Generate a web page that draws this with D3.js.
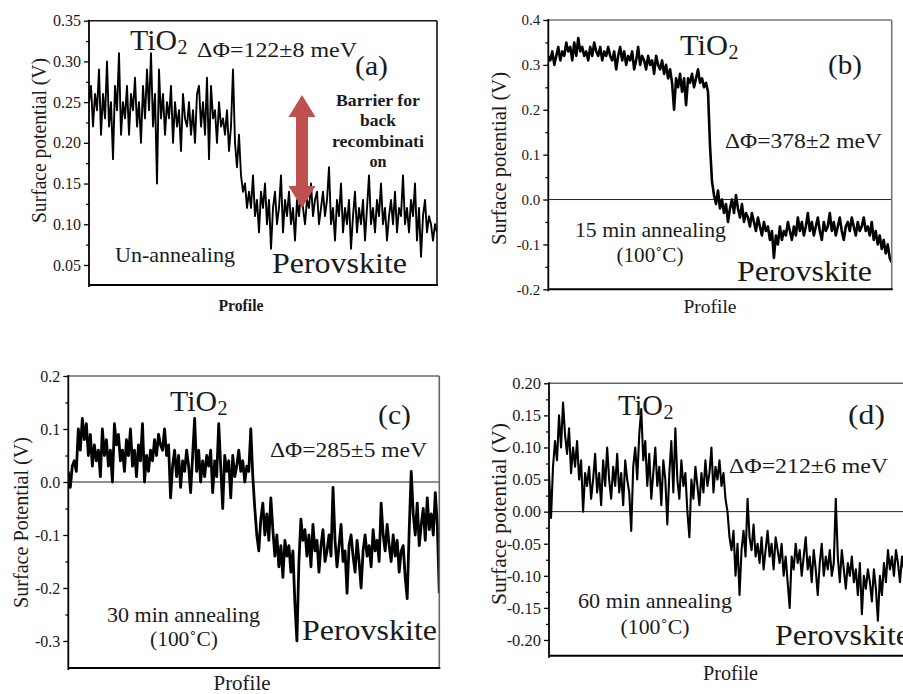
<!DOCTYPE html>
<html>
<head>
<meta charset="utf-8">
<script src="https://cdn.jsdelivr.net/npm/d3@7"></script>
<style>
body { margin: 0; background: #fff; }
svg { display: block; }
text { font-family: "Liberation Serif", "Times New Roman", serif; fill: #1a1a1a; }
</style>
</head>
<body>
<script>
"use strict";

// surface potential profiles (V)
var profileA = [
  0.25,0.27,0.22,0.26,0.24,0.29,0.21,0.26,0.23,0.30,
  0.22,0.25,0.18,0.27,0.24,0.31,0.21,0.25,0.23,0.27,
  0.21,0.26,0.24,0.28,0.22,0.25,0.20,0.27,0.23,0.29,
  0.24,0.31,0.22,0.26,0.15,0.29,0.23,0.26,0.21,0.25,
  0.23,0.27,0.20,0.25,0.22,0.24,0.19,0.26,0.23,0.22,
  0.25,0.21,0.24,0.20,0.26,0.27,0.22,0.25,0.21,0.28,
  0.18,0.27,0.23,0.24,0.20,0.25,0.22,0.23,0.21,0.24,
  0.19,0.22,0.29,0.20,0.17,0.21,0.16,0.14,0.15,0.12,
  0.14,0.12,0.16,0.11,0.13,0.09,0.14,0.12,0.15,0.10,
  0.13,0.07,0.12,0.14,0.10,0.12,0.16,0.09,0.13,0.11,
  0.14,0.10,0.12,0.08,0.13,0.11,0.14,0.12,0.10,0.13,
  0.12,0.15,0.11,0.13,0.14,0.10,0.12,0.14,0.11,0.13,
  0.17,0.10,0.12,0.08,0.13,0.11,0.15,0.09,0.12,0.10,
  0.13,0.07,0.11,0.14,0.09,0.12,0.10,0.13,0.08,0.12,
  0.16,0.10,0.12,0.09,0.13,0.11,0.15,0.10,0.12,0.08,
  0.11,0.13,0.10,0.14,0.09,0.12,0.11,0.16,0.10,0.12,
  0.09,0.13,0.11,0.15,0.08,0.12,0.06,0.11,0.13,0.09,
  0.11,0.10,0.08,0.10,0.09
];
var profileB = [
  0.32,0.31,0.33,0.30,0.32,0.34,0.31,0.33,0.32,0.35,
  0.33,0.34,0.31,0.35,0.32,0.36,0.33,0.34,0.32,0.33,
  0.31,0.34,0.32,0.35,0.33,0.32,0.34,0.31,0.33,0.32,
  0.34,0.32,0.31,0.33,0.29,0.32,0.34,0.31,0.33,0.30,
  0.32,0.31,0.33,0.29,0.31,0.34,0.30,0.32,0.31,0.29,
  0.32,0.30,0.31,0.28,0.32,0.30,0.29,0.31,0.28,0.30,
  0.27,0.29,0.26,0.20,0.27,0.25,0.28,0.24,0.27,0.21,
  0.27,0.26,0.28,0.25,0.27,0.29,0.26,0.27,0.25,0.26,
  0.24,0.12,0.04,0.01,-0.01,0.02,-0.02,0.00,-0.03,-0.01,
  -0.05,-0.02,0.00,-0.03,0.01,-0.02,-0.04,-0.01,-0.05,-0.03,
  -0.04,-0.06,-0.03,-0.05,-0.07,-0.04,-0.06,-0.08,-0.05,-0.07,
  -0.06,-0.09,-0.07,-0.13,-0.08,-0.10,-0.06,-0.09,-0.07,-0.08,
  -0.05,-0.07,-0.09,-0.06,-0.08,-0.04,-0.07,-0.05,-0.08,-0.06,
  -0.03,-0.07,-0.05,-0.08,-0.06,-0.04,-0.07,-0.09,-0.05,-0.07,
  -0.06,-0.03,-0.07,-0.05,-0.08,-0.06,-0.04,-0.07,-0.09,-0.06,
  -0.05,-0.07,-0.04,-0.06,-0.08,-0.05,-0.07,-0.06,-0.04,-0.07,
  -0.06,-0.08,-0.05,-0.09,-0.07,-0.10,-0.08,-0.11,-0.09,-0.12,
  -0.10,-0.13,-0.14
];
var profileC = [
  0.02,-0.01,0.03,0.04,0.02,0.10,0.06,0.12,0.08,0.11,
  0.05,0.09,0.03,0.07,0.04,0.06,0.01,0.10,0.05,0.08,
  0.03,0.06,0.00,0.11,0.07,0.09,0.04,0.06,0.02,0.08,
  0.05,0.10,0.03,0.06,0.01,0.07,0.04,0.11,0.00,0.05,
  0.02,0.06,0.04,0.08,0.05,0.09,0.07,0.06,0.10,0.05,
  0.07,-0.03,0.03,0.06,0.01,0.05,-0.01,0.04,0.02,0.06,
  0.03,-0.02,0.05,0.12,0.02,0.06,0.00,0.04,0.01,0.05,
  0.03,0.06,-0.02,0.04,0.01,0.11,0.03,-0.05,0.05,0.02,
  0.04,-0.03,0.05,0.01,0.03,0.06,0.02,0.04,0.00,0.03,
  0.02,0.10,0.01,-0.05,-0.10,-0.13,-0.07,-0.04,-0.10,-0.06,
  -0.11,-0.03,-0.09,-0.14,-0.10,-0.16,-0.12,-0.18,-0.11,-0.14,
  -0.12,-0.17,-0.13,-0.23,-0.30,-0.15,-0.07,-0.11,-0.09,-0.14,
  -0.10,-0.16,-0.08,-0.13,-0.11,-0.17,-0.12,-0.09,-0.15,-0.13,
  -0.10,-0.14,-0.01,-0.11,-0.16,-0.12,-0.08,-0.15,-0.13,-0.21,
  -0.12,-0.10,-0.14,-0.17,-0.11,-0.15,-0.20,-0.13,-0.10,-0.14,
  -0.12,-0.16,-0.09,-0.13,-0.11,-0.15,-0.04,-0.10,-0.13,-0.08,
  -0.12,-0.15,-0.10,-0.14,-0.11,-0.17,-0.13,-0.12,-0.18,-0.22,
  -0.09,0.02,-0.06,-0.10,-0.04,-0.12,-0.08,-0.05,-0.11,-0.03,
  -0.09,-0.06,-0.10,-0.02,-0.08,-0.21
];
var profileD = [
  0.06,-0.01,0.07,0.11,0.08,0.15,0.10,0.17,0.12,0.09,
  0.13,0.06,0.10,0.07,0.11,0.05,0.08,0.00,0.06,0.04,
  0.07,0.02,0.05,0.09,0.03,0.06,0.01,0.08,0.04,0.10,
  0.05,0.02,0.07,0.04,0.09,0.03,0.06,0.01,0.08,0.05,
  0.03,-0.03,0.07,0.10,0.05,0.12,0.16,0.08,0.11,0.04,
  0.09,0.02,0.06,0.10,0.04,0.07,0.01,0.08,0.05,-0.02,
  0.06,0.11,0.03,0.13,0.05,0.02,0.08,0.04,0.06,0.00,
  -0.04,0.05,0.02,0.07,0.04,0.01,0.06,0.03,0.08,0.04,
  0.06,0.10,0.03,0.07,0.05,0.08,0.04,0.06,0.02,0.00,
  -0.04,-0.06,-0.03,-0.10,-0.05,-0.13,-0.06,-0.03,-0.07,0.02,
  -0.04,-0.06,-0.02,-0.07,-0.05,-0.08,-0.04,-0.09,-0.06,-0.03,
  -0.07,-0.05,-0.09,-0.04,-0.06,-0.08,-0.05,-0.10,-0.07,-0.11,
  -0.15,-0.07,-0.09,-0.05,-0.08,-0.06,-0.10,-0.07,-0.04,-0.09,
  -0.07,-0.11,-0.06,-0.09,-0.13,-0.08,-0.05,-0.10,-0.07,-0.09,
  -0.06,-0.10,-0.08,0.02,-0.07,-0.11,-0.06,-0.09,-0.12,-0.08,
  -0.10,-0.07,-0.11,-0.09,-0.13,-0.08,-0.16,-0.10,-0.12,-0.09,
  -0.11,-0.14,-0.09,-0.12,-0.17,-0.10,-0.13,-0.08,-0.11,-0.06,
  -0.09,-0.07,-0.10,-0.06,-0.08,-0.11,-0.07,-0.09,-0.10,-0.08,
  -0.10,-0.09
];

// tick values
var ticksA = [0.05,0.10,0.15,0.20,0.25,0.30,0.35];
var minorA = [0.075,0.125,0.175,0.225,0.275,0.325];
var ticksB = [-0.2,-0.1,0.0,0.1,0.2,0.3,0.4];
var minorB = [-0.15,-0.05,0.05,0.15,0.25,0.35];
var ticksC = [-0.3,-0.2,-0.1,0.0,0.1,0.2];
var minorC = [-0.25,-0.15,-0.05,0.05,0.15];
var ticksD = [-0.20,-0.15,-0.10,-0.05,0.00,0.05,0.10,0.15,0.20];
var minorD = [-0.175,-0.125,-0.075,-0.025,0.025,0.075,0.125,0.175];

// text
var panelTags = ["(a)", "(b)", "(c)", "(d)"];
var deltaPhi = ["\u0394\u03A6=122\u00B18 meV", "\u0394\u03A6=378\u00B12 meV", "\u0394\u03A6=285\u00B15 meV", "\u0394\u03A6=212\u00B16 meV"];
var conditions = ["Un-annealing", "15 min annealing", "30 min annealing", "60 min annealing"];
var yTitles = ["Surface potential (V)", "Surface potential (V)", "Surface Potential (V)", "Surface potential (V)"];
var barrierLines = ["Barrier for", "back", "recombinati", "on"];

var fmt1 = d => d.toFixed(1);
var fmt2 = d => d.toFixed(2);

// layout of each panel (pixels)
var panels = [
  { values: profileA, ticks: ticksA, minor: minorA, fmt: fmt2, tickSize: 16,
    left: 89, right: 437, top: 20.7, bottom: 285, yDomain: [0.0254, 0.35],
    frameColor: "#111", lineW: 1.9, zero: false,
    yTitle: { x: 39, y: 140.5, len: 165 }, profile: { x: 241, y: 311, size: 16.5, len: 45, bold: true },
    tio: { x: 130, y: 50, len: 47 }, tag: { x: 355, y: 75, len: 33 },
    dphi: { x: 197, y: 57, len: 160 }, cond: { x: 115, y: 262, len: 120 }, temp: null,
    pero: { x: 272, y: 273, len: 135 } },
  { values: profileB, ticks: ticksB, minor: minorB, fmt: fmt1, tickSize: 15,
    left: 548.3, right: 891.7, top: 20, bottom: 289.3, yDomain: [-0.2, 0.4],
    frameColor: "#777", lineW: 2.6, zero: true,
    yTitle: { x: 499, y: 158.5, len: 173 }, profile: { x: 710, y: 313, size: 19.5, len: 53 },
    tio: { x: 680, y: 55, len: 48 }, tag: { x: 828, y: 74, len: 34 },
    dphi: { x: 725, y: 148, len: 157 }, cond: { x: 575, y: 237, len: 151 }, temp: { x: 650, y: 262, len: 67 },
    pero: { x: 737, y: 281, len: 135 } },
  { values: profileC, ticks: ticksC, minor: minorC, fmt: fmt1, tickSize: 16,
    left: 68.3, right: 439.3, top: 376, bottom: 668, yDomain: [-0.351, 0.2],
    frameColor: "#666", lineW: 2.8, zero: true,
    yTitle: { x: 21, y: 522.5, len: 171 }, profile: { x: 242, y: 690, size: 21, len: 57 },
    tio: { x: 170, y: 411, len: 47 }, tag: { x: 378, y: 424, len: 33 },
    dphi: { x: 270, y: 457, len: 157 }, cond: { x: 107, y: 622, len: 153 }, temp: { x: 184, y: 646, len: 68 },
    pero: { x: 302, y: 640, len: 135 } },
  { values: profileD, ticks: ticksD, minor: minorD, fmt: fmt2, tickSize: 16.5,
    left: 549, right: 912, top: 383.3, bottom: 655.7, yDomain: [-0.2245, 0.2],
    frameColor: "#666", lineW: 2.1, zero: true,
    yTitle: { x: 498.5, y: 514, len: 182 }, profile: { x: 730.5, y: 680, size: 20, len: 55 },
    tio: { x: 618, y: 415, len: 45 }, tag: { x: 848, y: 424, len: 37 },
    dphi: { x: 729, y: 473, len: 159 }, cond: { x: 578, y: 608, len: 154 }, temp: { x: 655, y: 634, len: 69 },
    pero: { x: 775, y: 645, len: 135 } }
];

var width = 903, height = 694;

var svg = d3.select("body").append("svg")
  .attr("width", width)
  .attr("height", height);

function fitText(g, str, x, y, size, len, anchor) {
  return g.append("text")
    .attr("x", x).attr("y", y)
    .attr("font-size", size)
    .attr("text-anchor", anchor || "start")
    .attr("textLength", len)
    .attr("lengthAdjust", "spacingAndGlyphs")
    .text(str);
}

function drawPanel(p, i) {
  var x = d3.scaleLinear().domain([0, p.values.length - 1]).range([p.left, p.right]);
  var y = d3.scaleLinear().domain(p.yDomain).range([p.bottom, p.top]);
  var g = svg.append("g");

  var clipId = "clip" + i;
  svg.append("clipPath").attr("id", clipId)
    .append("rect")
    .attr("x", p.left).attr("y", p.top)
    .attr("width", p.right - p.left).attr("height", p.bottom - p.top);

  if (p.zero) {
    g.append("line")
      .attr("x1", p.left).attr("x2", p.right)
      .attr("y1", y(0)).attr("y2", y(0))
      .attr("stroke", "#222").attr("stroke-width", 1);
  }

  var line = d3.line()
    .x((d, j) => x(j))
    .y(d => y(d));

  g.append("path")
    .datum(p.values)
    .attr("clip-path", "url(#" + clipId + ")")
    .attr("fill", "none")
    .attr("stroke", "#000")
    .attr("stroke-width", p.lineW)
    .attr("stroke-linejoin", "round")
    .attr("d", line);

  // frame: top + right lighter, left + bottom black
  g.append("line").attr("x1", p.left).attr("x2", p.right).attr("y1", p.top).attr("y2", p.top)
    .attr("stroke", p.frameColor).attr("stroke-width", 1.6);
  g.append("line").attr("x1", p.right).attr("x2", p.right).attr("y1", p.top).attr("y2", p.bottom)
    .attr("stroke", p.frameColor).attr("stroke-width", 1.6);
  g.append("line").attr("x1", p.left).attr("x2", p.right + 1).attr("y1", p.bottom).attr("y2", p.bottom)
    .attr("stroke", "#000").attr("stroke-width", 2);
  g.append("line").attr("x1", p.left).attr("x2", p.left).attr("y1", p.top - 1).attr("y2", p.bottom + 2)
    .attr("stroke", "#000").attr("stroke-width", 1.8);

  // y axis
  var ax = g.append("g")
    .attr("transform", "translate(" + p.left + ",0)")
    .call(d3.axisLeft(y).tickValues(p.ticks).tickFormat(p.fmt).tickSize(5).tickPadding(3).tickSizeOuter(0));
  ax.select(".domain").remove();
  ax.selectAll("line").attr("stroke", "#000").attr("stroke-width", 1.3);
  ax.selectAll("text")
    .attr("font-family", "\"Liberation Serif\", \"Times New Roman\", serif")
    .attr("font-size", p.tickSize)
    .attr("fill", "#1a1a1a");

  var mx = g.append("g")
    .attr("transform", "translate(" + p.left + ",0)")
    .call(d3.axisLeft(y).tickValues(p.minor).tickFormat("").tickSize(3).tickSizeOuter(0));
  mx.select(".domain").remove();
  mx.selectAll("line").attr("stroke", "#000").attr("stroke-width", 1.2);

  // axis titles
  g.append("text")
    .attr("transform", "translate(" + p.yTitle.x + "," + p.yTitle.y + ") rotate(-90)")
    .attr("text-anchor", "middle")
    .attr("dominant-baseline", "central")
    .attr("font-size", 20)
    .attr("textLength", p.yTitle.len)
    .attr("lengthAdjust", "spacingAndGlyphs")
    .text(yTitles[i]);

  fitText(g, "Profile", p.profile.x, p.profile.y, p.profile.size, p.profile.len, "middle")
    .attr("font-weight", p.profile.bold ? "bold" : null);

  // annotations
  fitText(g, "TiO", p.tio.x, p.tio.y, 29, p.tio.len);
  g.append("text")
    .attr("x", p.tio.x + p.tio.len + 0.5).attr("y", p.tio.y + 4)
    .attr("font-size", 20)
    .text("2");

  fitText(g, panelTags[i], p.tag.x, p.tag.y, 28, p.tag.len);
  fitText(g, deltaPhi[i], p.dphi.x, p.dphi.y, 21, p.dphi.len);
  fitText(g, conditions[i], p.cond.x, p.cond.y, 21, p.cond.len);
  if (p.temp) fitText(g, "(100\u02DAC)", p.temp.x, p.temp.y, 21, p.temp.len, "middle");
  fitText(g, "Perovskite", p.pero.x, p.pero.y, 29, p.pero.len);

  return { g: g, x: x, y: y };
}

var drawn = panels.map(drawPanel);

// panel (a): double arrow + barrier note
(function () {
  var g = drawn[0].g;
  var cx = 302, top = 95, bot = 208, shaft = 6, head = 13.5, hl = 22;
  var pth = d3.path();
  pth.moveTo(cx, top);
  pth.lineTo(cx + head, top + hl);
  pth.lineTo(cx + shaft, top + hl);
  pth.lineTo(cx + shaft, bot - hl);
  pth.lineTo(cx + head, bot - hl);
  pth.lineTo(cx, bot);
  pth.lineTo(cx - head, bot - hl);
  pth.lineTo(cx - shaft, bot - hl);
  pth.lineTo(cx - shaft, top + hl);
  pth.lineTo(cx - head, top + hl);
  pth.closePath();
  g.append("path").attr("d", pth.toString()).attr("fill", "#c0504d");

  var lens = [84, 36, 92, 17];
  var bases = [105.5, 125.5, 146.5, 166.5];
  barrierLines.forEach(function (s, k) {
    fitText(g, s, 378, bases[k], 17, lens[k], "middle")
      .attr("font-weight", "bold")
      .attr("fill", "#1c1c2e");
  });
})();
</script>
</body>
</html>
